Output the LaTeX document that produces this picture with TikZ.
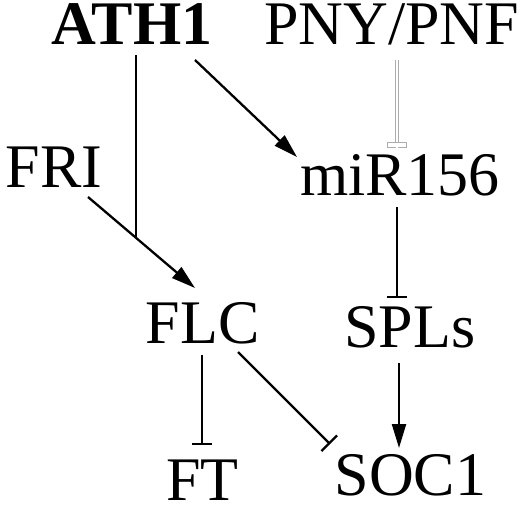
\documentclass[tikz,border=0pt]{standalone}
\usepackage{fontspec}
\setmainfont{Liberation Serif}
\usetikzlibrary{arrows.meta}
\begin{document}
\begin{tikzpicture}[x=1pt,y=-1pt,
  lbl/.style={inner sep=0pt, anchor=base, font=\fontsize{62}{62}\selectfont},
  edge/.style={line width=2.3pt, black},
  act/.style={edge, -{Triangle[length=24pt,width=14pt]}},
  inh/.style={edge, -{Bar[width=20pt]}},
  grayinh/.style={draw=gray!65, line width=0.8pt, double=white, double distance=2.4pt}
]
\useasboundingbox (0,0) rectangle (522,508);
\node[lbl, font=\fontsize{62}{62}\selectfont\bfseries] (ath1) at (132,45) {ATH1};
\node[lbl] (pny) at (391.5,45) {PNY/PNF};
\node[lbl] (fri) at (54,187) {FRI};
\node[lbl] (mir) at (400,195) {miR156};
\node[lbl] (flc) at (202.5,343) {FLC};
\node[lbl] (spl) at (410,347) {SPLs};
\node[lbl] (ft) at (202.5,500) {FT};
\node[lbl] (soc) at (410.5,495) {SOC1};

\coordinate (athA) at (136,55);
\coordinate (join) at (136,237);
\coordinate (athB) at (195,60);
\coordinate (mirT) at (297,157);
\coordinate (friS) at (88,197);
\coordinate (flcT) at (195,288);
\coordinate (pnyS) at (397,60);
\coordinate (pnyB) at (397,145);
\coordinate (mirS) at (397,207);
\coordinate (splT) at (397,298);
\coordinate (flcA) at (202,355);
\coordinate (ftT) at (202,445);
\coordinate (flcB) at (238,352);
\coordinate (socT) at (330,444);
\coordinate (splS) at (399,363);
\coordinate (socA) at (399,448);

% ATH1 -> FLC (joins FRI arrow)
\draw[edge] (athA) -- (join);
% ATH1 -> miR156
\draw[act] (athB) -- (mirT);
% FRI -> FLC
\draw[act] (friS) -- (flcT);
% PNY/PNF -| miR156 (gray, hollow)
\draw[grayinh] (pnyS) -- ([yshift=-2pt]pnyB);
\draw[draw=gray!65, line width=0.8pt, fill=white] ([xshift=-9.5pt,yshift=-2.2pt]pnyB) rectangle ([xshift=9.5pt,yshift=2.2pt]pnyB);
\fill[white] ([xshift=-1.2pt,yshift=-3.2pt]pnyB) rectangle ([xshift=1.2pt,yshift=-1.5pt]pnyB);
% miR156 -| SPLs
\draw[inh] (mirS) -- (splT);
% FLC -| FT
\draw[inh] (flcA) -- (ftT);
% FLC -| SOC1
\draw[inh, -{Bar[width=22pt]}] (flcB) -- (socT);
% SPLs -> SOC1
\draw[act] (splS) -- (socA);
\end{tikzpicture}
\end{document}
